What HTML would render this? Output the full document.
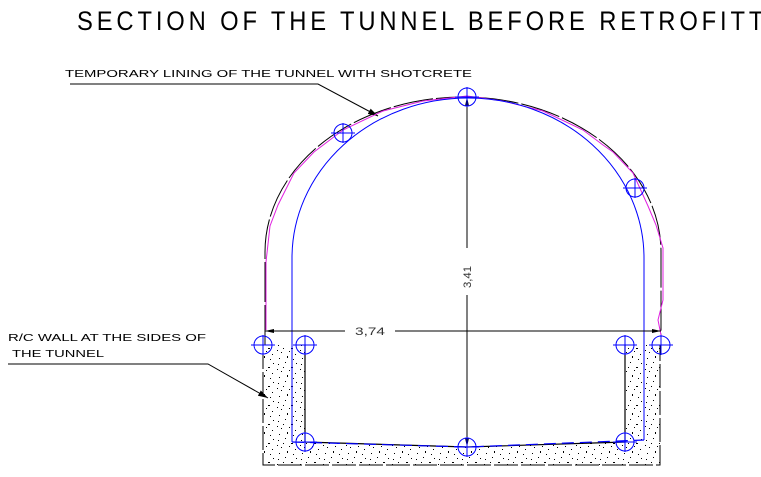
<!DOCTYPE html>
<html><head><meta charset="utf-8"><style>html,body{margin:0;padding:0;background:#fff}svg{display:block}</style></head>
<body>
<svg width="761" height="477" viewBox="0 0 761 477" xmlns="http://www.w3.org/2000/svg" font-family="Liberation Sans, sans-serif">
<defs>
<pattern id="sp" width="23" height="19" patternUnits="userSpaceOnUse">
<rect x="2" y="3" width="1" height="1" fill="#000"/><rect x="9" y="1" width="1" height="1" fill="#000"/><rect x="15" y="6" width="2" height="1" fill="#000"/><rect x="5" y="10" width="1" height="1" fill="#000"/><rect x="19" y="12" width="1" height="1" fill="#000"/><rect x="11" y="14" width="1" height="2" fill="#000"/><rect x="3" y="16" width="1" height="1" fill="#000"/><rect x="20" y="2" width="1" height="1" fill="#000"/><rect x="13" y="9" width="1" height="1" fill="#000"/><rect x="7" y="6" width="1" height="1" fill="#000"/><rect x="17" y="17" width="1" height="1" fill="#000"/><rect x="1" y="8" width="1" height="1" fill="#000"/>
</pattern>
<marker id="ar" markerWidth="10" markerHeight="6" refX="10" refY="3" orient="auto" markerUnits="userSpaceOnUse"><path d="M0,0 L10,3 L0,6z" fill="#000"/></marker>
</defs>
<text x="77" y="30" font-size="27" textLength="780" lengthAdjust="spacing" transform="translate(77,0) scale(0.88,1) translate(-77,0)">SECTION OF THE TUNNEL BEFORE RETROFITT</text>
<text x="65" y="77" font-size="10" textLength="407" lengthAdjust="spacingAndGlyphs">TEMPORARY LINING OF THE TUNNEL WITH SHOTCRETE</text>
<polyline points="70,84 318,84 378,116" fill="none" stroke="#000" stroke-width="1" marker-end="url(#ar)"/>
<text x="8" y="341" font-size="10" textLength="198" lengthAdjust="spacingAndGlyphs">R/C WALL AT THE SIDES OF</text>
<text x="12" y="357" font-size="10" textLength="92" lengthAdjust="spacingAndGlyphs">THE TUNNEL</text>
<polyline points="8,364 208,364 268,398" fill="none" stroke="#000" stroke-width="1" marker-end="url(#ar)"/>
<path d="M263,345 L263,465 L660,465 L660,345 L625,345 L625,442 L467,447 L305,442 L305,345 Z" fill="url(#sp)"/>
<path d="M263,345 L263,465 L660,465 L660,345" fill="none" stroke="#000" stroke-width="1" stroke-dasharray="24,3"/>
<path d="M305,345 L305,442 L467,447 L625,442 L625,345" fill="none" stroke="#000" stroke-width="1.2"/>
<path d="M265,345 L265,252 A198,155 0 0 1 661,252 L661,345" fill="none" stroke="#000" stroke-width="1" stroke-dasharray="40,3"/>
<path d="M266,330 L266,262 L270,226 L278,205 L294,173 L314,152 L343,130 L383,111 L423,101 L467,96 L482,98 L503,101 L543,111 L583,130 L603,145 L613,152 L633,173 L648,206 L656,225 L663,248 L663,300 L658,320 L661,335" fill="none" stroke="#e020e0" stroke-width="1"/>
<path d="M292,442 L292,258 A176,160 0 0 1 644,258 L644,440" fill="none" stroke="#00f" stroke-width="1"/>
<path d="M292,442 L467,447 L644,440" fill="none" stroke="#00f" stroke-width="1.2" stroke-dasharray="12,6"/>
<line x1="265" y1="331" x2="345" y2="331" stroke="#000"/>
<line x1="395" y1="331" x2="661" y2="331" stroke="#000"/>
<path d="M265,331 l9,-2 v4z M661,331 l-9,-2 v4z" fill="#000"/>
<text x="355" y="335" font-size="11" fill="#333" textLength="30" lengthAdjust="spacingAndGlyphs">3,74</text>
<line x1="467" y1="97" x2="467" y2="248" stroke="#000"/>
<line x1="467" y1="295" x2="467" y2="447" stroke="#000"/>
<path d="M467,97 l-2,9 h4z M467,447 l-2,-9 h4z" fill="#000"/>
<text transform="translate(471,288) rotate(-90)" font-size="11" fill="#333" textLength="22" lengthAdjust="spacingAndGlyphs">3,41</text>
<g fill="none" stroke="#00f" stroke-width="1">
<circle cx="263" cy="345" r="9"/><circle cx="305" cy="345" r="9"/><circle cx="625" cy="345" r="9"/><circle cx="661" cy="345" r="9"/>
<circle cx="305" cy="442" r="9"/><circle cx="467" cy="447" r="9"/><circle cx="625" cy="442" r="9"/>
<circle cx="467" cy="97" r="9"/><circle cx="343" cy="133" r="9"/><circle cx="635" cy="188" r="9"/>
<path d="M251,345h24M263,335v20 M293,345h24M305,335v20 M613,345h24M625,335v20 M649,345h24M661,335v20 M293,442h24M305,432v20 M455,447h24M467,437v20 M613,442h24M625,432v20 M455,97h24M467,87v20 M331,133h24M343,123v20 M623,188h24M635,178v20"/>
</g>
</svg>
</body></html>
